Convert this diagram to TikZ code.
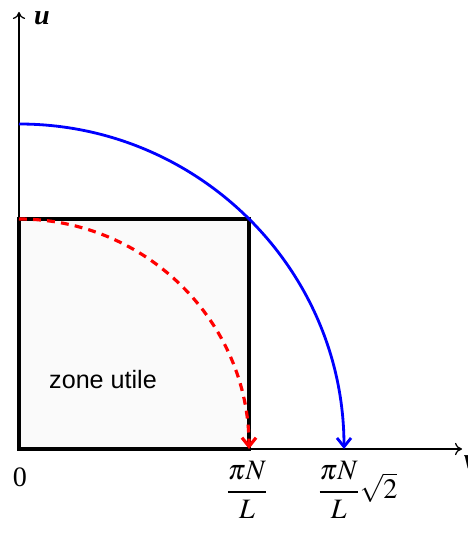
\documentclass[tikz,border=0pt]{standalone}
\usepackage{amsmath}
\usepackage{mathptmx}
\usepackage[no-math]{fontspec}
\setmainfont{Liberation Serif}
\newfontfamily\zonefont{Liberation Sans}
\usetikzlibrary{arrows.meta}
\definecolor{arcblue}{RGB}{0,0,255}
\definecolor{arcred}{RGB}{255,0,0}
\tikzset{
  axis/.style={-{To[length=4pt,width=7pt]}, line width=0.7pt},
  zonebox/.style={draw=black, line width=2.6pt},
  bigarc/.style={-{Straight Barb[length=5pt,width=8pt]}, line width=1.6pt, draw=arcblue},
  smallarc/.style={-{Straight Barb[length=5pt,width=8pt]}, line width=1.8pt, draw=arcred,
                   dash pattern=on 4.5pt off 3.5pt},
  ticklabel/.style={font=\fontsize{16}{19}\selectfont, inner sep=0pt},
  axislabel/.style={font=\fontsize{16}{19}\selectfont\bfseries\itshape, inner sep=0pt},
}

\begin{document}
\begin{tikzpicture}
  \useasboundingbox (-0.38,-1.70) rectangle (8.96,8.98);

  % points
  \coordinate (O) at (0,0);
  \coordinate (xend) at (8.86,0);
  \coordinate (yend) at (0,8.74);
  \coordinate (corner) at (4.6,4.6);
  \coordinate (bluetop) at (0,6.5);
  \coordinate (redtop) at (0,4.6);

  % useful zone
  \fill[black!2] (O) rectangle (corner);

  % axes
  \draw[axis] (O) -- (xend);
  \draw[axis] (O) -- (yend);
  \node[axislabel] (ulab) at (0.46,8.62) {u};
  \node[axislabel] (vlab) at (9.02,-0.26) {v};

  \draw[zonebox] (O) rectangle (corner);
  \node[font=\zonefont\fontsize{14.3}{17}\selectfont] (zone) at (1.68,1.38) {zone utile};

  % arcs
  \draw[bigarc] (bluetop) arc[start angle=90, end angle=0, radius=6.5];
  \draw[smallarc] (redtop) arc[start angle=90, end angle=0, radius=4.6];

  % labels
  \node[ticklabel] (zero) at (0.02,-0.56) {0};
  \node[ticklabel] (kmax) at (4.56,-0.82) {$\dfrac{\pi N}{L}$};
  \node[ticklabel] (kdiag) at (6.77,-0.82) {$\dfrac{\pi N}{L}\sqrt{2}$};
\end{tikzpicture}
\end{document}
